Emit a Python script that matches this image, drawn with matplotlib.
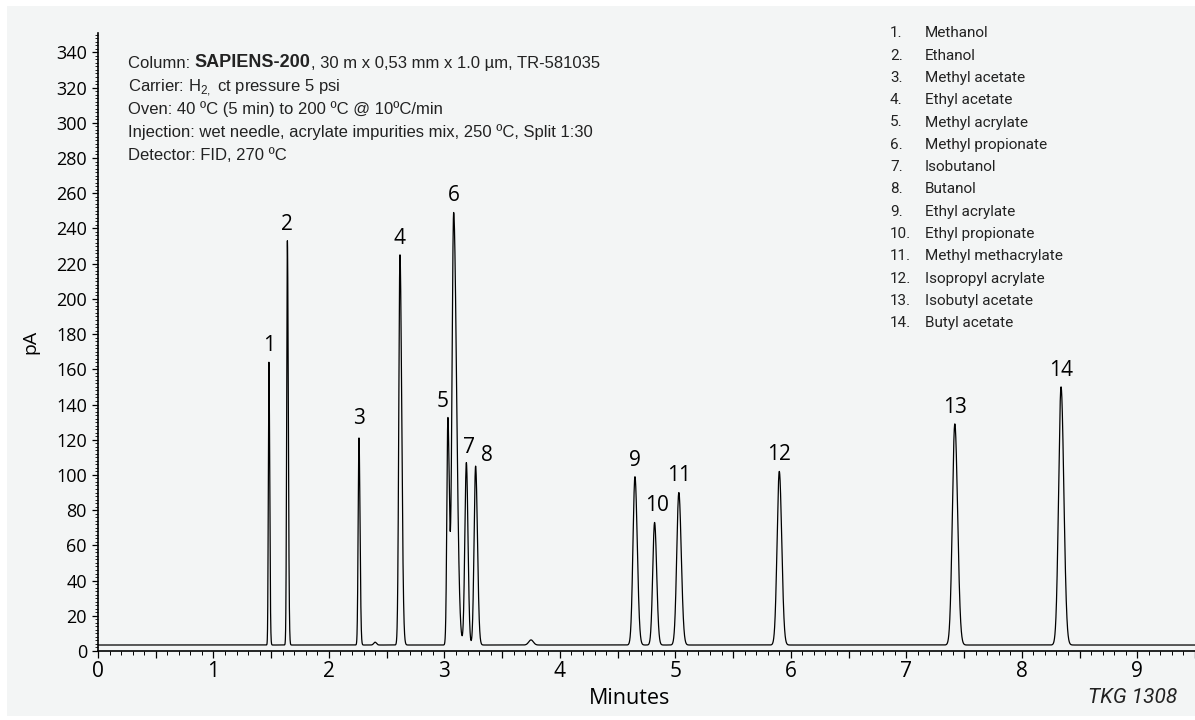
import numpy as np
import matplotlib
matplotlib.use('Agg')
import matplotlib.pyplot as plt
from matplotlib.patches import Rectangle
from matplotlib.ticker import MultipleLocator, FuncFormatter

# Peak table (apex time in min, apex signal in pA)
peak_labels = ['1', '2', '3', '4', '5', '6', '7', '8', '9', '10', '11', '12', '13', '14']
peak_times = [1.48, 1.64, 2.26, 2.615, 3.03, 3.08, 3.19, 3.27, 4.65, 4.82, 5.03, 5.90, 7.42, 8.34]
peak_heights = [164, 233, 121, 225, 132, 249, 107, 105, 99, 73, 90, 102, 129, 150]
# peak half widths (min), front side and tail side
sigma_front = [0.005, 0.006, 0.007, 0.010, 0.009, 0.0145, 0.013, 0.013, 0.017, 0.016, 0.018, 0.019, 0.021, 0.021]
sigma_tail = [0.007, 0.008, 0.009, 0.015, 0.0125, 0.025, 0.014, 0.016, 0.020, 0.018, 0.021, 0.021, 0.024, 0.024]

# small unlabelled bumps
bump_times = [2.40, 3.75]
bump_heights = [5.0, 6.3]
bump_sigma = [0.012, 0.02]

baseline = 3.4

compounds = ['Methanol', 'Ethanol', 'Methyl acetate', 'Ethyl acetate', 'Methyl acrylate',
             'Methyl propionate', 'Isobutanol', 'Butanol', 'Ethyl acrylate', 'Ethyl propionate',
             'Methyl methacrylate', 'Isopropyl acrylate', 'Isobutyl acetate', 'Butyl acetate']

# label nudges (points) for crowded peaks
label_offsets = {'3': (0, 14), '5': (-4, 12), '7': (2, 11), '8': (8, 8), '10': (2, 12)}

plt.rcParams['mathtext.fontset'] = 'custom'
plt.rcParams['mathtext.rm'] = 'Liberation Sans'

# build the detector trace
t = np.linspace(0, 9.5, 19001)
signal = np.full_like(t, baseline)
for tr, h, sf, st in zip(peak_times, peak_heights, sigma_front, sigma_tail):
    s = np.where(t < tr, sf, st)
    signal += (h - baseline) * np.exp(-0.5 * ((t - tr) / s) ** 2)
for tr, h, s in zip(bump_times, bump_heights, bump_sigma):
    signal += (h - baseline) * np.exp(-0.5 * ((t - tr) / s) ** 2)

W, H = 1195, 720
fig = plt.figure(figsize=(W / 100, H / 100), dpi=100)
fig.patches.append(Rectangle((7 / W, 4 / H), 1 - 7 / W, 1 - 10 / H, transform=fig.transFigure,
                             facecolor='#f3f5f5', edgecolor='none', zorder=-5))

ax = fig.add_axes([98 / W, 69 / H, 1 - 98 / W, (687 - 69) / H])
ax.set_facecolor('none')
ax.plot(t, signal, color='black', linewidth=0.9)

ax.set_xlim(0, 9.5)
ax.set_ylim(0, 351)
for side in ['top', 'right']:
    ax.spines[side].set_visible(False)
for side in ['left', 'bottom']:
    ax.spines[side].set_linewidth(1.2)

ax.xaxis.set_major_locator(MultipleLocator(0.5))
ax.xaxis.set_minor_locator(MultipleLocator(0.1))
ax.xaxis.set_major_formatter(FuncFormatter(lambda v, p: '%d' % v if abs(v - round(v)) < 1e-6 else ''))
ax.yaxis.set_major_locator(MultipleLocator(20))
ax.yaxis.set_minor_locator(MultipleLocator(2))
ax.tick_params(axis='x', which='major', direction='out', length=5, width=0.9, pad=2)
ax.tick_params(axis='x', which='minor', direction='out', length=3, width=0.7)
ax.tick_params(axis='y', which='major', direction='out', length=4, width=0.9, pad=4)
ax.tick_params(axis='y', which='minor', direction='out', length=2, width=0.6)
for lab in ax.get_xticklabels():
    lab.set_family('Open Sans')
    lab.set_fontsize(15)
for lab in ax.get_yticklabels():
    lab.set_family('Open Sans')
    lab.set_fontsize(13)

ax.set_xlabel('Minutes', family='Open Sans', fontsize=15.5)
ax.xaxis.set_label_coords((630 - 98) / 1097, -0.060)
ax.set_ylabel('pA', family='Open Sans', fontsize=14, labelpad=12)

for lbl, tr, h in zip(peak_labels, peak_times, peak_heights):
    ax.annotate(lbl, (tr, h), xytext=label_offsets.get(lbl, (0, 12)), textcoords='offset points',
                ha='center', va='center', family='Open Sans', fontsize=15)

# method conditions block
tx = 128 / W
base_y = [68.3, 91.1, 113.9, 136.7, 159.5]
tkw = dict(family='Liberation Sans', fontsize=12, color='#222222', va='baseline')
t1 = fig.text(tx, 1 - base_y[0] / H, 'Column: ', **tkw)
t2 = ax.annotate('SAPIENS-200', xy=(1, 0), xycoords=t1, fontweight='bold', fontsize=13,
                 family='Liberation Sans', color='#222222', va='bottom', ha='left',
                 annotation_clip=False)
ax.annotate(', 30 m x 0,53 mm x 1.0 µm, TR-581035', xy=(1, 0), xycoords=t2, annotation_clip=False,
            va='bottom', ha='left', family='Liberation Sans', fontsize=12, color='#222222')
fig.text(tx, 1 - base_y[1] / H, 'Carrier: H$_{2,}$ ct pressure 5 psi', **tkw)
fig.text(tx, 1 - base_y[2] / H, 'Oven: 40 ºC (5 min) to 200 ºC @ 10ºC/min', **tkw)
fig.text(tx, 1 - base_y[3] / H, 'Injection: wet needle, acrylate impurities mix, 250 ºC, Split 1:30', **tkw)
fig.text(tx, 1 - base_y[4] / H, 'Detector: FID, 270 ºC', **tkw)

# compound list
for i, name in enumerate(compounds):
    yb = 1 - (37.3 + 22.3 * i) / H
    fig.text(890 / W, yb, '%d.' % (i + 1), family='Roboto', fontsize=11,
             color='#222222', va='baseline')
    fig.text(925 / W, yb, name, family='Roboto', fontsize=11,
             color='#222222', va='baseline')

fig.text(1177 / W, 1 - 703 / H, 'TKG 1308', family='Roboto', style='italic',
         fontsize=15, color='#222222', ha='right', va='baseline')

fig.savefig('out.png', dpi=100, facecolor='white')
